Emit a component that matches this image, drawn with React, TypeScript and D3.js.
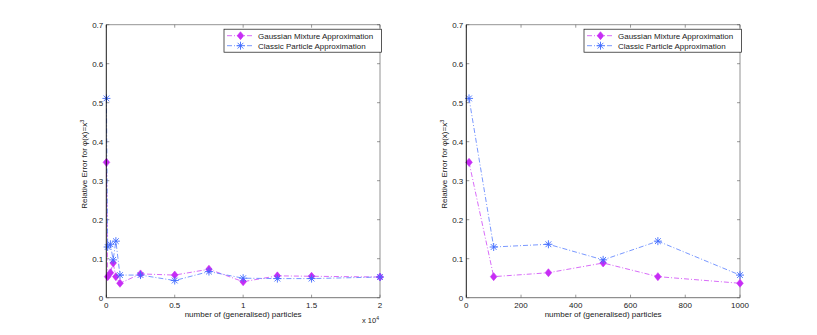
import React from 'react';
import { scaleLinear, line } from 'd3';

// number of (generalised) particles
const particles = [10, 100, 300, 500, 700, 1000, 2500, 5000, 7500, 10000, 12500, 15000, 20000];
const gaussianMixture = [0.347, 0.054, 0.064, 0.089, 0.054, 0.037, 0.061, 0.058, 0.073, 0.041, 0.056, 0.055, 0.053];
const classicParticle = [0.511, 0.13, 0.137, 0.097, 0.145, 0.058, 0.058, 0.044, 0.067, 0.05, 0.049, 0.049, 0.053];

const yTicks = [0, 0.1, 0.2, 0.3, 0.4, 0.5, 0.6, 0.7];
const leftXTicks = [0, 5000, 10000, 15000, 20000];
const leftXLabels = ['0', '0.5', '1', '1.5', '2'];
const rightXTicks = [0, 200, 400, 600, 800, 1000];
const rightXLabels = ['0', '200', '400', '600', '800', '1000'];

const seriesNames = ['Gaussian Mixture Approximation', 'Classic Particle Approximation'];

const MAGENTA = '#c72cf5';
const BLUE = '#3f6bff';
const FONT = '"Liberation Sans", Arial, sans-serif';

const Diamond = ({ x, y }: { x: number; y: number }) => (
  <path d={`M${x},${y - 4}L${x + 3.3},${y}L${x},${y + 4}L${x - 3.3},${y}Z`} fill={MAGENTA} stroke={MAGENTA} strokeWidth={0.6} />
);

const Star = ({ x, y }: { x: number; y: number }) => {
  const r = 4;
  const d = r * 0.72;
  return (
    <g stroke={BLUE} strokeWidth={0.9}>
      <line x1={x - r} y1={y} x2={x + r} y2={y} />
      <line x1={x} y1={y - r} x2={x} y2={y + r} />
      <line x1={x - d} y1={y - d} x2={x + d} y2={y + d} />
      <line x1={x - d} y1={y + d} x2={x + d} y2={y - d} />
    </g>
  );
};

type PanelProps = {
  left: number;
  xMax: number;
  count: number;
  xTicks: number[];
  xLabels: string[];
  exponent?: boolean;
};

const Panel = ({ left, xMax, count, xTicks, xLabels, exponent }: PanelProps) => {
  const top = 24.7;
  const bottom = 297.7;
  const w = 273.7;
  const right = left + w;
  const x = scaleLinear().domain([0, xMax]).range([left, right]);
  const y = scaleLinear().domain([0, 0.7]).range([bottom, top]);

  const xs = particles.slice(0, count);
  const gm = gaussianMixture.slice(0, count);
  const cp = classicParticle.slice(0, count);

  const path = line<number>()
    .x((_, i) => x(xs[i]))
    .y((d) => y(d));

  const dash = '5,2,1,2';
  const lx = right - 156;
  const ly = top + 4.5;

  return (
    <g fontFamily={FONT} fontSize={8} fill="#222">
      {/* frame */}
      <rect x={left} y={top} width={w} height={bottom - top} fill="#fff" />
      <line x1={left} y1={top} x2={right} y2={top} stroke="#777" strokeWidth={0.8} />
      <line x1={right} y1={top} x2={right} y2={bottom} stroke="#777" strokeWidth={0.8} />

      {/* ticks */}
      {yTicks.map((t) => (
        <g key={t}>
          <line x1={left} x2={left + 3} y1={y(t)} y2={y(t)} stroke="#555" strokeWidth={0.6} />
          <line x1={right} x2={right - 3} y1={y(t)} y2={y(t)} stroke="#555" strokeWidth={0.6} />
          <text x={left - 3} y={y(t) + 3} textAnchor="end">
            {t === 0 ? '0' : t.toFixed(1)}
          </text>
        </g>
      ))}
      {xTicks.map((t, i) => (
        <g key={t}>
          <line x1={x(t)} x2={x(t)} y1={bottom} y2={bottom - 3} stroke="#555" strokeWidth={0.6} />
          <line x1={x(t)} x2={x(t)} y1={top} y2={top + 3} stroke="#555" strokeWidth={0.6} />
          <text x={x(t)} y={bottom + 10} textAnchor="middle">
            {xLabels[i]}
          </text>
        </g>
      ))}

      {/* series */}
      <path d={path(gm) || ''} fill="none" stroke={MAGENTA} strokeWidth={0.7} strokeDasharray={dash} />
      <path d={path(cp) || ''} fill="none" stroke={BLUE} strokeWidth={0.7} strokeDasharray={dash} />
      {gm.map((v, i) => (
        <Diamond key={'g' + i} x={x(xs[i])} y={y(v)} />
      ))}
      {cp.map((v, i) => (
        <Star key={'c' + i} x={x(xs[i])} y={y(v)} />
      ))}

      {/* axes in front */}
      <line x1={left} y1={top} x2={left} y2={bottom} stroke="#000" strokeWidth={0.9} />
      <line x1={left} y1={bottom} x2={right} y2={bottom} stroke="#666" strokeWidth={0.9} />

      {/* legend */}
      <rect x={lx} y={ly} width={157.5} height={23} fill="#fff" stroke="#111" strokeWidth={0.7} />
      <line x1={lx + 3} x2={lx + 30} y1={ly + 6.5} y2={ly + 6.5} stroke={MAGENTA} strokeWidth={0.7} strokeDasharray={dash} />
      <Diamond x={lx + 16.5} y={ly + 6.5} />
      <text x={lx + 34} y={ly + 9.5}>{seriesNames[0]}</text>
      <line x1={lx + 3} x2={lx + 30} y1={ly + 16.5} y2={ly + 16.5} stroke={BLUE} strokeWidth={0.7} strokeDasharray={dash} />
      <Star x={lx + 16.5} y={ly + 16.5} />
      <text x={lx + 34} y={ly + 19.5}>{seriesNames[1]}</text>

      {/* labels */}
      <text x={(left + right) / 2} y={bottom + 19} textAnchor="middle">
        number of (generalised) particles
      </text>
      <text transform={`translate(${left - 19},${(top + bottom) / 2 + 3}) rotate(-90)`} textAnchor="middle">
        Relative Error for φ(x)=x
        <tspan dy={-3} fontSize={5.5}>3</tspan>
      </text>
      {exponent && (
        <text x={right - 18} y={bottom + 25} fontSize={7.5}>
          x 10
          <tspan dy={-3} fontSize={5}>4</tspan>
        </text>
      )}
    </g>
  );
};

const App = () => (
  <svg width={817} height={335} style={{ position: 'absolute', left: 0, top: 0, background: '#fff' }}>
    <rect width={817} height={335} fill="#fff" />
    <Panel left={106.3} xMax={20000} count={13} xTicks={leftXTicks} xLabels={leftXLabels} exponent />
    <Panel left={466.3} xMax={1000} count={6} xTicks={rightXTicks} xLabels={rightXLabels} />
  </svg>
);

export default App;
